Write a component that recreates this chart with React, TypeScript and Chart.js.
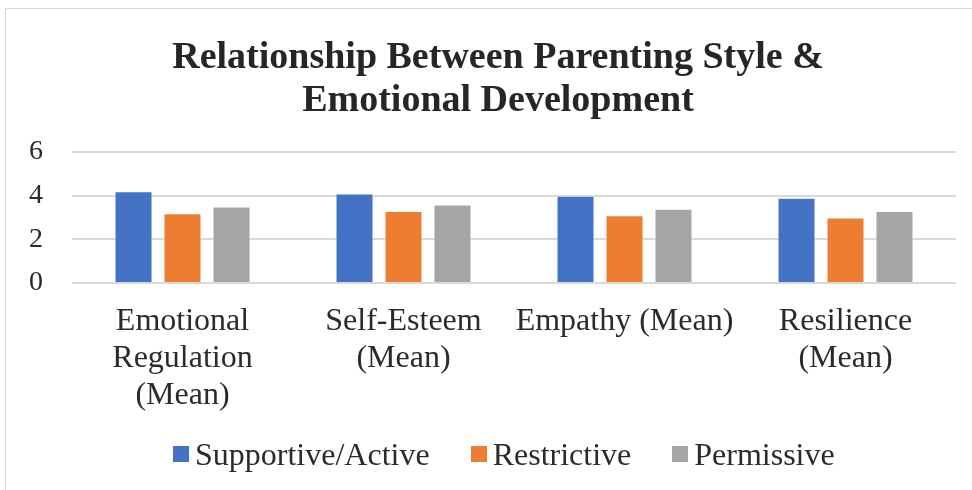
import React, { useEffect, useRef } from "react";
import { Chart, registerables } from "chart.js";

Chart.register(...registerables);

const titleLines = ["Relationship Between Parenting Style &", "Emotional Development"];
const categories = [
  ["Emotional", "Regulation", "(Mean)"],
  ["Self-Esteem", "(Mean)"],
  ["Empathy (Mean)"],
  ["Resilience", "(Mean)"],
];
const seriesNames = ["Supportive/Active", "Restrictive", "Permissive"];
const supportive = [4.2, 4.1, 4.0, 3.9];
const restrictive = [3.2, 3.3, 3.1, 3.0];
const permissive = [3.5, 3.6, 3.4, 3.3];
const seriesColors = ["#4472C4", "#ED7D31", "#A5A5A5"];
const yTicks = [0, 2, 4, 6];

const FONT = '"Liberation Serif", "Times New Roman", serif';
const TEXT = "#2b2b2b";

export default function App() {
  const canvasRef = useRef<HTMLCanvasElement | null>(null);

  useEffect(() => {
    const canvas = canvasRef.current;
    if (!canvas) return;
    const values = [supportive, restrictive, permissive];
    const chart = new Chart(canvas, {
      type: "bar",
      data: {
        labels: categories,
        datasets: seriesNames.map((name, i) => ({
          label: name,
          data: values[i],
          backgroundColor: seriesColors[i],
          borderColor: "rgba(255,255,255,0.6)",
          borderWidth: 1,
          categoryPercentage: 0.665,
          barPercentage: 0.776,
        })),
      },
      options: {
        animation: false,
        responsive: true,
        maintainAspectRatio: false,
        layout: { padding: { left: 40, right: 16, top: 0, bottom: 77 } },
        plugins: {
          legend: { display: false },
          tooltip: { enabled: false },
          title: {
            display: true,
            text: titleLines,
            color: "#262626",
            font: { family: FONT, size: 38, weight: "bold", lineHeight: 43 / 38 },
            padding: { top: 36.5, bottom: 29.5 },
          },
        },
        scales: {
          x: {
            afterFit: (scale: any) => {
              scale.height = 130;
            },
            grid: { display: false, drawTicks: false },
            border: { display: false },
            ticks: {
              color: TEXT,
              maxRotation: 0,
              minRotation: 0,
              autoSkip: false,
              padding: 20,
              font: { family: FONT, size: 32, lineHeight: 37 / 32 },
            },
          },
          y: {
            min: yTicks[0],
            max: yTicks[yTicks.length - 1],
            afterFit: (scale: any) => {
              scale.width = 32;
            },
            grid: { color: "#d9d9d9", lineWidth: 2, drawTicks: false },
            border: { display: false },
            ticks: {
              stepSize: yTicks[1] - yTicks[0],
              autoSkip: false,
              mirror: true,
              color: TEXT,
              padding: -43,
              font: { family: FONT, size: 28 },
            },
          },
        },
      },
    });
    return () => chart.destroy();
  }, []);

  return (
    <div>
      <div
        style={{
          position: "fixed",
          left: 5,
          top: 8,
          width: 1000,
          height: 600,
          border: "1px solid #d9d9d9",
          boxSizing: "border-box",
        }}
      />
      <div style={{ position: "fixed", left: 0, top: 0, width: 972, height: 490 }}>
        <canvas ref={canvasRef} />
      </div>
      <div
        style={{
          position: "fixed",
          left: 173,
          top: 438,
          display: "flex",
          alignItems: "center",
          fontFamily: FONT,
          fontSize: 32,
          lineHeight: "32px",
          color: TEXT,
          whiteSpace: "nowrap",
        }}
      >
        {seriesNames.map((name, i) => (
          <div key={name} style={{ display: "flex", alignItems: "center", marginRight: i < seriesNames.length - 1 ? 41 : 0 }}>
            <span style={{ display: "inline-block", width: 16, height: 16, background: seriesColors[i], marginRight: 6 }} />
            <span>{name}</span>
          </div>
        ))}
      </div>
    </div>
  );
}
